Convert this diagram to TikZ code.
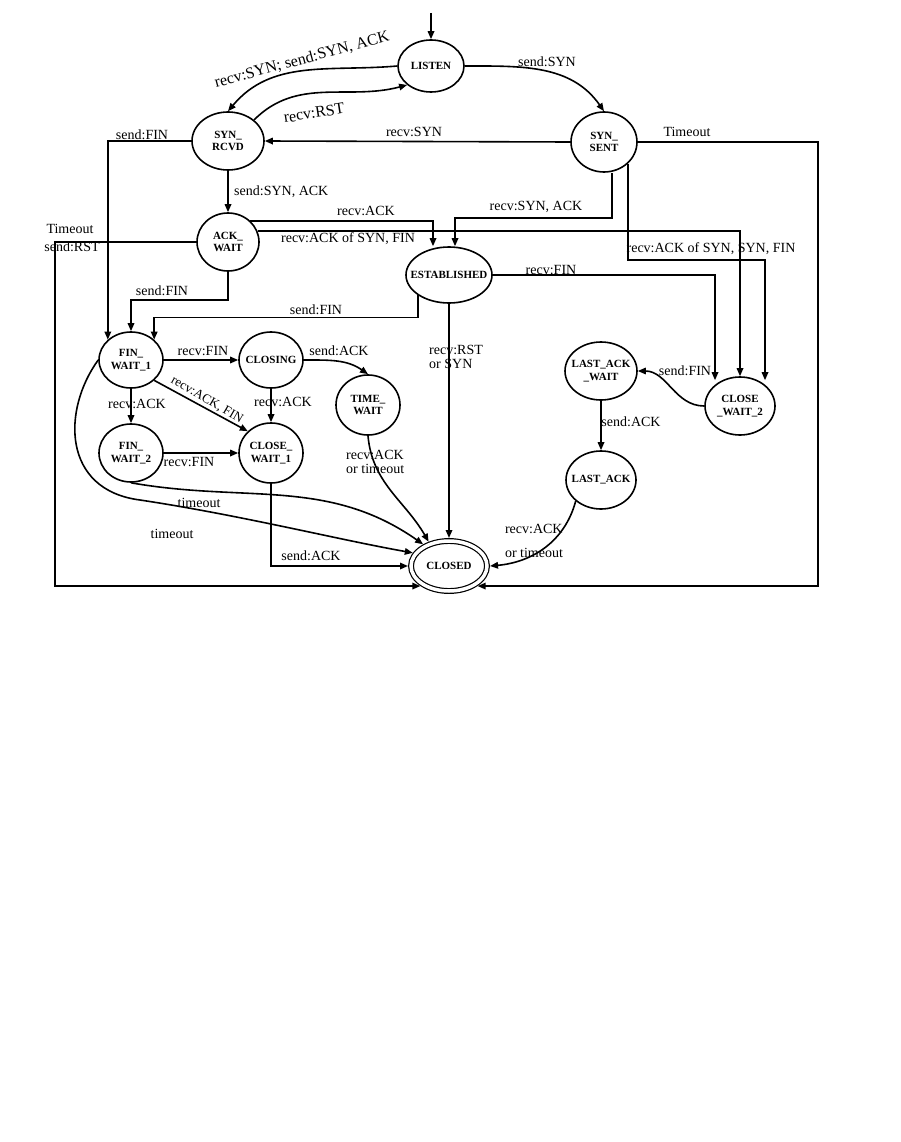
\documentclass[tikz,border=0pt]{standalone}
\usepackage{fontspec}
\setmainfont{Liberation Serif}
\usepackage{tikz}
\usetikzlibrary{arrows.meta, shapes.geometric, calc}

\begin{document}
\begin{tikzpicture}[
        x=1pt, y=-1pt,
        font=\fontsize{14}{14.5}\selectfont,
        state/.style={
            draw,
            ellipse,
            line width=1.6pt,
            inner xsep=-8pt,
            inner ysep=0pt,
            align=center,
            font=\fontsize{11}{12.5}\selectfont\bfseries
        },
        final/.style={state, double, double distance=3.5pt, line width=1.2pt, outer sep=3pt},
        arrow/.style={-{Triangle[length=8pt, width=6.5pt]}, line width=1.6pt},
        edgeLabel/.style={inner sep=1pt},
        bigLabel/.style={edgeLabel, font=\fontsize{16}{18}\selectfont}
    ]

        \fill[white] (0,0) rectangle (901,1142);
        \useasboundingbox (0,0) rectangle (901,1142);

        % ---- Nodes ----
        \node[state, minimum width=66, minimum height=52] (listen) at (431,66) {LISTEN};
        \node[state, minimum width=72, minimum height=58] (synrcvd) at (228,141) {SYN\_\\RCVD};
        \node[state, minimum width=66, minimum height=60] (synsent) at (604,142) {SYN\_\\SENT};
        \node[state, minimum width=62, minimum height=58] (ackwait) at (228,242) {ACK\_\\WAIT};
        \node[state, minimum width=86, minimum height=56] (est) at (449,275) {ESTABLISHED};

        \node[state, minimum width=64, minimum height=56] (finwaitA) at (131,360) {FIN\_\\WAIT\_1};
        \node[state, minimum width=64, minimum height=56] (closing) at (271,360) {CLOSING};
        \node[state, minimum width=64, minimum height=60] (timewait) at (368,405) {TIME\_\\WAIT};
        \node[state, minimum width=64, minimum height=58] (finwaitB) at (131,453) {FIN\_\\WAIT\_2};
        \node[state, minimum width=64, minimum height=60] (closewaitA) at (271,453) {CLOSE\_\\WAIT\_1};

        \node[state, minimum width=72, minimum height=58] (lastackwait) at (601,371) {LAST\_ACK\\\_WAIT};
        \node[state, minimum width=70, minimum height=58] (closewaitB) at (740,406) {CLOSE\\\_WAIT\_2};
        \node[state, minimum width=70, minimum height=58] (lastack) at (601,480) {LAST\_ACK};
        \node[final, minimum width=76, minimum height=50] (closed) at (449,566) {CLOSED};

        \coordinate (start) at (431,13);
        \coordinate (lcorner) at (55,586);
        \coordinate (rcorner) at (818,586);

        % ---- Arrows ----
        \draw[arrow] (start) -- (listen.north);
        \draw[arrow] (listen.west) to[out=185, in=50] (synrcvd.north);
        \draw[arrow] (synrcvd.north east) to[out=45, in=195] (listen.south west);
        \draw[arrow] (listen.east) to[out=0, in=125] (synsent.north);
        \draw[arrow] (synsent.west) -- (synrcvd.east);
        \draw[arrow] (synrcvd.west) -| (finwaitA.north west);
        \draw[arrow] (synrcvd.south) -- (ackwait.north);

        \draw[arrow] (ackwait.north east) -| ([xshift=-16]est.north);
        \draw[arrow] (ackwait.20) -| (closewaitB.north);
        \draw[arrow] (ackwait.west) -| (lcorner) -- (closed.215);
        \draw[arrow] (ackwait.south) -- ++(0,28) -| (finwaitA.north);

        \draw[arrow] (synsent.east) -| (rcorner) -- (closed.325);
        \draw[arrow] ([xshift=8]synsent.south) -- ++(0,45) -| ([xshift=6]est.north);
        \draw[arrow] (synsent.south east) -- ++(0,96) -| ([xshift=25, yshift=-4]closewaitB.north);

        \draw[arrow] (est.east) -| ([xshift=-25, yshift=-4]closewaitB.north);
        \draw[arrow] (est.south west) -- ++(0,22) -| (finwaitA.north east);
        \draw[arrow] (est.south) -- (closed.north);

        \draw[arrow] (finwaitA.east) -- (closing.west);
        \draw[arrow] (closing.east) to[out=0, in=145] (timewait.north);
        \draw[arrow] (closing.south) -- (closewaitA.north);
        \draw[arrow] (finwaitA.south) -- (finwaitB.north);
        \draw[arrow] (finwaitA.south east) -- (closewaitA.north west);
        \draw[arrow] (finwaitB.east) -- (closewaitA.west);

        \draw[arrow] (timewait.south) to[out=-85, in=120] (closed.130);
        \draw[arrow] (finwaitB.south) to[out=-10, in=145] (closed.140);
        \draw[arrow] (finwaitA.west) .. controls (62,410) and (62,490) .. (140,500)
            .. controls (240,515) and (340,540) .. (closed.160);
        \draw[arrow] (closewaitA.south) |- (closed.west);

        \draw[arrow] (closewaitB.west) to[out=180, in=0] (lastackwait.east);
        \draw[arrow] (lastackwait.south) -- (lastack.north);
        \draw[arrow] (lastack.south west) to[out=-105, in=5] (closed.east);

        % ---- Labels ----
        \node[bigLabel, rotate=15] (lbSynRcvd) at (302,60) {recv:SYN; send:SYN, ACK};
        \node[bigLabel, rotate=9] (lbRst) at (314,113) {recv:RST};
        \node[edgeLabel] (lbSendSyn) at (547,62) {send:SYN};
        \node[edgeLabel] (lbRecvSyn) at (414,132) {recv:SYN};
        \node[edgeLabel] (lbRcvdFin) at (142,135) {send:FIN};
        \node[edgeLabel] (lbTimeoutA) at (70,229) {Timeout};
        \node[edgeLabel] (lbSendRst) at (72,247) {send:RST};
        \node[edgeLabel, anchor=west] (lbSynAck) at (233,192) {send:SYN, ACK};
        \node[edgeLabel] (lbAck) at (366,211) {recv:ACK};
        \node[edgeLabel] (lbAckSynFin) at (348,239) {recv:ACK of SYN, FIN};
        \node[edgeLabel] (lbRecvSynAck) at (536,207) {recv:SYN, ACK};
        \node[edgeLabel] (lbTimeoutB) at (687,132) {Timeout};
        \node[edgeLabel] (lbAckSynSynFin) at (711,249) {recv:ACK of SYN, SYN, FIN};
        \node[edgeLabel] (lbEstFin) at (551,270) {recv:FIN};
        \node[edgeLabel] (lbEstSendFin) at (316,310) {send:FIN};
        \node[edgeLabel] (lbAckSendFin) at (162,291) {send:FIN};
        \node[edgeLabel, align=left, anchor=west] (lbRstSyn) at (428,357) {recv:RST\\or SYN};

        \node[edgeLabel] (lbLastFin) at (685,371) {send:FIN};
        \node[edgeLabel] (lbLastAck) at (631,422) {send:ACK};
        \node[edgeLabel, align=left] (lbAckTimeout) at (534,541) {recv:ACK\\[9pt]or timeout};

        \node[edgeLabel] (lbFwRecvFin) at (203,351) {recv:FIN};
        \node[edgeLabel] (lbClosingAck) at (339,351) {send:ACK};
        \node[edgeLabel] (lbFwAck) at (137,404) {recv:ACK};
        \node[edgeLabel] (lbClosingRecv) at (283,402) {recv:ACK};
        \node[edgeLabel, rotate=-30, font=\fontsize{13}{14}\selectfont] (lbAckFin) at (207,400) {recv:ACK, FIN};
        \node[edgeLabel] (lbFwFin) at (189,462) {recv:FIN};
        \node[edgeLabel, align=left, anchor=west] (lbTwAck) at (345,462) {recv:ACK\\or timeout};
        \node[edgeLabel] (lbTimeoutC) at (199,503) {timeout};
        \node[edgeLabel] (lbTimeoutD) at (172,534) {timeout};
        \node[edgeLabel] (lbCwAck) at (311,556) {send:ACK};

    \end{tikzpicture}
\end{document}
